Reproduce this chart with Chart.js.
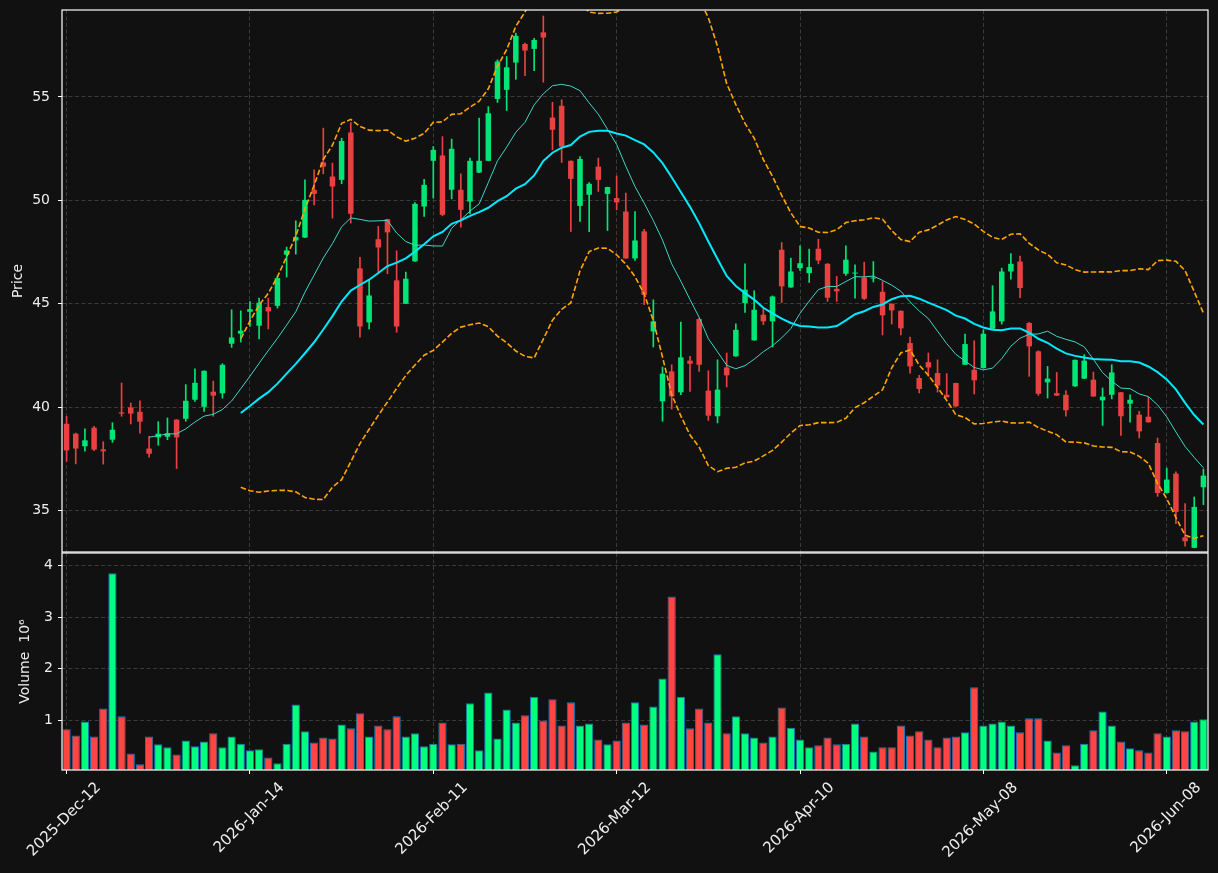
<!DOCTYPE html>
<html>
<head>
<meta charset="utf-8">
<script src="https://cdn.jsdelivr.net/npm/chart.js@4.4.1/dist/chart.umd.min.js"></script>
<style>
  html, body { margin: 0; padding: 0; background: #111111; }
  #wrap { position: relative; width: 1218px; height: 873px; }
  #wrap canvas { position: absolute; left: 0; top: 0; }
</style>
</head>
<body>
<div id="wrap">
  <canvas id="price" width="1218" height="873"></canvas>
  <canvas id="volume" width="1218" height="873"></canvas>
</div>
<script>
// trading days, by month
const days = [
  ["2025-Dec", [12, 15, 16, 17, 18, 19, 22, 23, 24, 29, 30, 31]],
  ["2026-Jan", [2, 5, 6, 7, 8, 9, 12, 13, 14, 15, 16, 19, 20, 21, 22, 23, 26, 27, 28, 29, 30]],
  ["2026-Feb", [2, 3, 4, 5, 6, 9, 10, 11, 12, 13, 17, 18, 19, 20, 23, 24, 25, 26, 27]],
  ["2026-Mar", [2, 3, 4, 5, 6, 9, 10, 11, 12, 13, 16, 17, 18, 19, 20, 23, 24, 25, 26, 27, 30, 31]],
  ["2026-Apr", [1, 2, 6, 7, 8, 9, 10, 13, 14, 15, 16, 17, 20, 21, 22, 23, 24, 27, 28, 29, 30]],
  ["2026-May", [1, 4, 5, 6, 7, 8, 11, 12, 13, 14, 15, 18, 19, 20, 21, 22, 26, 27, 28, 29]],
  ["2026-Jun", [1, 2, 3, 4, 5, 8, 9, 10, 11, 12]],
];
const dates = [];
days.forEach(([m, ds]) => ds.forEach((d) => dates.push(m + "-" + String(d).padStart(2, "0"))));

const tickIdx = [0, 20, 40, 60, 80, 100, 120];

const open = [
  39.20, 38.72, 38.11, 39.01, 37.96, 38.43, 39.75, 39.99, 39.78, 38.00,
  38.54, 38.57, 39.40, 39.44, 40.36, 40.02, 40.75, 40.67, 43.07, 43.55,
  44.61, 43.94, 44.84, 44.90, 47.37, 48.06, 48.20, 50.51, 51.83, 51.15,
  50.99, 53.28, 46.71, 44.10, 48.12, 49.09, 46.13, 45.00, 47.05, 49.70,
  51.91, 52.17, 50.51, 50.51, 49.94, 51.34, 51.91, 54.90, 55.34, 56.66,
  57.56, 57.32, 58.12, 54.00, 54.57, 51.91, 49.73, 50.27, 51.63, 50.31,
  50.11, 49.46, 47.19, 48.50, 43.66, 40.28, 41.73, 40.72, 42.25, 44.26,
  40.80, 39.56, 41.92, 42.46, 45.03, 43.23, 44.47, 44.15, 47.61, 45.79,
  46.72, 46.48, 47.66, 46.93, 45.72, 46.45, 46.46, 46.27, 46.22, 45.58,
  45.00, 44.66, 43.10, 41.41, 42.18, 41.65, 40.60, 41.17, 42.05, 41.81,
  41.89, 43.79, 44.15, 46.56, 47.04, 44.07, 42.70, 41.20, 40.68, 40.60,
  41.01, 41.38, 41.33, 40.33, 40.60, 40.72, 40.17, 39.64, 39.54, 38.27,
  35.85, 36.79, 33.71, 33.20, 36.13,
];
const high = [
  39.56, 38.75, 38.95, 39.07, 38.33, 39.25, 41.17, 40.20, 40.31, 38.59,
  39.30, 39.48, 39.40, 41.09, 41.86, 41.76, 41.26, 42.10, 44.71, 44.66,
  45.11, 45.27, 45.27, 46.32, 47.74, 49.01, 50.99, 51.47, 53.49, 51.80,
  53.00, 53.76, 47.25, 46.13, 48.74, 49.09, 47.56, 46.53, 49.89, 51.02,
  52.60, 53.08, 52.96, 51.28, 52.04, 53.97, 54.53, 56.79, 56.95, 58.08,
  57.60, 57.83, 58.91, 54.74, 54.86, 51.91, 52.12, 50.86, 52.04, 50.64,
  51.18, 50.35, 49.46, 48.60, 45.19, 41.94, 42.05, 44.11, 42.46, 44.31,
  41.76, 42.29, 42.62, 44.03, 46.93, 45.63, 44.79, 45.38, 47.96, 47.21,
  47.80, 47.64, 48.12, 46.95, 46.32, 47.80, 46.88, 47.01, 47.04, 46.07,
  45.00, 44.66, 43.39, 41.54, 42.62, 42.29, 41.62, 41.17, 43.54, 43.21,
  43.74, 45.87, 46.72, 47.42, 47.30, 44.10, 42.73, 41.97, 41.68, 40.80,
  42.29, 42.54, 41.70, 40.93, 42.05, 40.72, 40.60, 39.80, 40.48, 38.51,
  37.06, 36.87, 35.34, 35.66, 37.01,
];
const low = [
  37.38, 37.26, 37.87, 37.90, 37.25, 38.30, 39.56, 39.19, 38.75, 37.59,
  38.16, 38.43, 37.03, 39.32, 40.28, 39.80, 39.56, 40.44, 42.89, 43.15,
  43.90, 43.30, 43.78, 44.79, 46.29, 47.40, 48.20, 49.78, 51.28, 49.14,
  50.80, 48.90, 43.39, 43.78, 46.48, 46.45, 43.62, 45.00, 47.05, 49.22,
  50.11, 49.25, 50.07, 48.70, 49.35, 51.34, 51.91, 54.73, 54.34, 55.85,
  56.03, 56.27, 55.71, 52.44, 51.83, 48.49, 48.98, 48.49, 50.43, 48.54,
  49.54, 47.19, 47.09, 44.95, 42.91, 39.32, 39.91, 40.60, 40.76, 41.73,
  39.36, 39.24, 40.98, 42.46, 44.58, 43.23, 43.99, 42.91, 45.06, 45.79,
  46.61, 46.03, 46.93, 45.11, 45.11, 46.37, 45.27, 45.20, 46.05, 43.49,
  44.02, 43.49, 41.65, 40.69, 41.49, 40.73, 40.48, 40.04, 42.05, 40.64,
  41.89, 43.79, 44.02, 46.19, 45.30, 41.49, 40.57, 40.44, 40.56, 39.56,
  41.01, 41.38, 40.52, 39.12, 40.40, 38.64, 39.27, 38.51, 39.27, 35.69,
  35.85, 34.37, 33.28, 33.20, 35.29,
];
const close = [
  37.91, 38.00, 38.40, 37.95, 37.87, 38.91, 39.69, 39.69, 39.30, 37.75,
  38.72, 38.74, 38.54, 40.31, 41.18, 41.76, 40.56, 42.05, 43.37, 43.70,
  44.74, 45.05, 44.63, 46.24, 47.58, 48.22, 50.02, 50.31, 51.63, 50.67,
  52.87, 49.35, 43.90, 45.40, 47.72, 48.45, 43.90, 46.21, 49.83, 50.75,
  52.44, 49.30, 52.49, 49.54, 51.91, 51.91, 54.21, 56.71, 56.43, 57.95,
  57.24, 57.75, 57.87, 53.41, 52.60, 51.04, 52.00, 50.80, 50.99, 50.64,
  49.90, 47.19, 48.06, 45.43, 44.15, 41.62, 40.52, 42.41, 42.10, 42.05,
  39.59, 40.85, 41.54, 43.74, 45.68, 44.71, 44.15, 45.35, 45.84, 46.56,
  46.96, 46.77, 47.09, 45.29, 45.60, 47.13, 46.50, 45.24, 46.26, 44.44,
  44.68, 43.81, 41.97, 40.88, 41.92, 41.05, 40.48, 40.04, 43.05, 41.30,
  43.55, 44.63, 46.56, 46.93, 45.76, 42.94, 40.65, 41.38, 40.56, 39.85,
  42.29, 42.25, 40.52, 40.51, 41.68, 39.56, 40.36, 38.83, 39.27, 35.85,
  36.50, 34.94, 33.52, 35.18, 36.69,
];
// volume in millions
const volume = [
  0.83, 0.71, 0.98, 0.69, 1.23, 3.85, 1.08, 0.36, 0.15, 0.69,
  0.54, 0.48, 0.34, 0.61, 0.50, 0.59, 0.75, 0.48, 0.69, 0.55,
  0.42, 0.44, 0.28, 0.17, 0.55, 1.31, 0.79, 0.57, 0.67, 0.65,
  0.92, 0.85, 1.14, 0.69, 0.90, 0.83, 1.08, 0.69, 0.75, 0.50,
  0.55, 0.96, 0.54, 0.55, 1.33, 0.42, 1.54, 0.65, 1.21, 0.96,
  1.10, 1.46, 1.00, 1.41, 0.90, 1.35, 0.90, 0.94, 0.63, 0.54,
  0.61, 0.96, 1.35, 0.92, 1.27, 1.81, 3.40, 1.46, 0.85, 1.23,
  0.96, 2.28, 0.75, 1.08, 0.75, 0.67, 0.57, 0.69, 1.25, 0.86,
  0.63, 0.48, 0.52, 0.67, 0.54, 0.55, 0.94, 0.69, 0.40, 0.48,
  0.48, 0.90, 0.71, 0.79, 0.63, 0.48, 0.67, 0.69, 0.77, 1.64,
  0.90, 0.94, 0.98, 0.90, 0.77, 1.04, 1.04, 0.61, 0.38, 0.52,
  0.13, 0.55, 0.81, 1.17, 0.90, 0.59, 0.46, 0.42, 0.38, 0.75,
  0.69, 0.81, 0.79, 0.98, 1.02,
];
const priceTicks = [35, 40, 45, 50, 55];
const volumeTicks = [1, 2, 3, 4];

// moving averages and bollinger bands from close
function sma(src, n) {
  return src.map((_, i) => {
    if (i < n - 1) return null;
    let s = 0;
    for (let k = i - n + 1; k <= i; k++) s += src[k];
    return s / n;
  });
}
function bollinger(src, n, mult, sign) {
  const mid = sma(src, n);
  return src.map((_, i) => {
    if (mid[i] === null) return null;
    let v = 0;
    for (let k = i - n + 1; k <= i; k++) v += (src[k] - mid[i]) ** 2;
    return mid[i] + sign * mult * Math.sqrt(v / n);
  });
}
const ma10 = sma(close, 10);
const ma20 = sma(close, 20);
const upper = bollinger(close, 20, 2, 1);
const lower = bollinger(close, 20, 2, -1);

const isUp = close.map((c, i) => c >= open[i]);
const candleCol = isUp.map((u) => (u ? "#00e676" : "#e84142"));
const volCol = isUp.map((u) => (u ? "#00ff7f" : "#ff4444"));

const TXT = "#eeeeee";
const GRID = "#3a3a3a";
const FONT = { family: "DejaVu Sans", size: 14 };

// white box round each panel
const frame = {
  id: "frame",
  afterDatasetsDraw(chart) {
    const { ctx, chartArea: a } = chart;
    ctx.save();
    ctx.strokeStyle = "#ffffff";
    ctx.lineWidth = 1.2;
    ctx.strokeRect(a.left, a.top, a.right - a.left, a.bottom - a.top);
    ctx.restore();
  },
};

function xScale(showLabels) {
  return {
    type: "category",
    offset: true,
    afterBuildTicks: (axis) => {
      axis.ticks = axis.ticks.filter((t) => tickIdx.includes(t.value));
    },
    afterFit: (axis) => {
      axis.height = showLabels ? 103 : 0;
      axis.paddingLeft = 0;
      axis.paddingRight = 0;
    },
    grid: {
      offset: false,
      color: GRID,
      drawTicks: showLabels,
      tickLength: 4,
      tickColor: "#ffffff",
      tickBorderDash: [],
    },
    border: { display: false, dash: [4, 2.5] },
    ticks: {
      display: showLabels,
      autoSkip: false,
      maxRotation: 45,
      minRotation: 45,
      labelOffset: 32,
      color: TXT,
      font: { family: "DejaVu Sans", size: 15 },
      padding: 5,
    },
  };
}

function yScale(min, max, ticks, title, titlePad, tickPad) {
  return {
    min: min,
    max: max,
    afterBuildTicks: (axis) => {
      axis.ticks = ticks.map((v) => ({ value: v }));
    },
    afterFit: (axis) => {
      axis.width = 62;
      axis.paddingTop = 0;
      axis.paddingBottom = 0;
    },
    grid: {
      color: GRID,
      tickLength: 4,
      tickColor: "#ffffff",
      tickBorderDash: [],
    },
    border: { display: false, dash: [4, 2.5] },
    ticks: { color: TXT, font: FONT, padding: tickPad },
    title: {
      display: true,
      text: title,
      color: TXT,
      font: FONT,
      padding: { top: titlePad, bottom: 0 },
    },
  };
}

const common = {
  responsive: false,
  animation: false,
  plugins: { legend: { display: false }, tooltip: { enabled: false } },
};

new Chart(document.getElementById("price"), {
  type: "bar",
  data: {
    labels: dates,
    datasets: [
      {
        type: "line",
        data: upper,
        borderColor: "#ffa500",
        borderWidth: 1.6,
        borderDash: [5.5, 2.4],
        pointRadius: 0,
        order: 0,
      },
      {
        type: "line",
        data: lower,
        borderColor: "#ffa500",
        borderWidth: 1.6,
        borderDash: [5.5, 2.4],
        pointRadius: 0,
        order: 0,
      },
      {
        type: "line",
        data: ma20,
        borderColor: "#00eaff",
        borderWidth: 2,
        pointRadius: 0,
        order: 1,
      },
      {
        type: "line",
        data: ma10,
        borderColor: "#3fd6c6",
        borderWidth: 1,
        pointRadius: 0,
        order: 1,
      },
      {
        // wicks
        data: low.map((l, i) => [l, high[i]]),
        backgroundColor: candleCol,
        barThickness: 1,
        grouped: false,
        order: 3,
      },
      {
        // bodies
        data: open.map((o, i) => [o, close[i]]),
        backgroundColor: candleCol,
        barPercentage: 0.6,
        categoryPercentage: 1,
        minBarLength: 1,
        grouped: false,
        order: 2,
      },
    ],
  },
  options: {
    ...common,
    layout: { padding: { top: 10, right: 10, bottom: 321, left: 0 } },
    scales: {
      x: xScale(false),
      y: yScale(33.0, 59.2, priceTicks, "Price", 10, 8),
    },
  },
  plugins: [frame],
});

new Chart(document.getElementById("volume"), {
  type: "bar",
  data: {
    labels: dates,
    datasets: [
      {
        data: volume,
        backgroundColor: volCol,
        borderColor: "#1f77b4",
        borderWidth: 1,
        barPercentage: 0.9,
        categoryPercentage: 1,
      },
    ],
  },
  options: {
    ...common,
    layout: { padding: { top: 553, right: 10, bottom: 0, left: 0 } },
    scales: {
      x: xScale(true),
      y: yScale(0.04, 4.24, volumeTicks, "Volume  10\u2076", 17, 5),
    },
  },
  plugins: [frame],
});
</script>
</body>
</html>
